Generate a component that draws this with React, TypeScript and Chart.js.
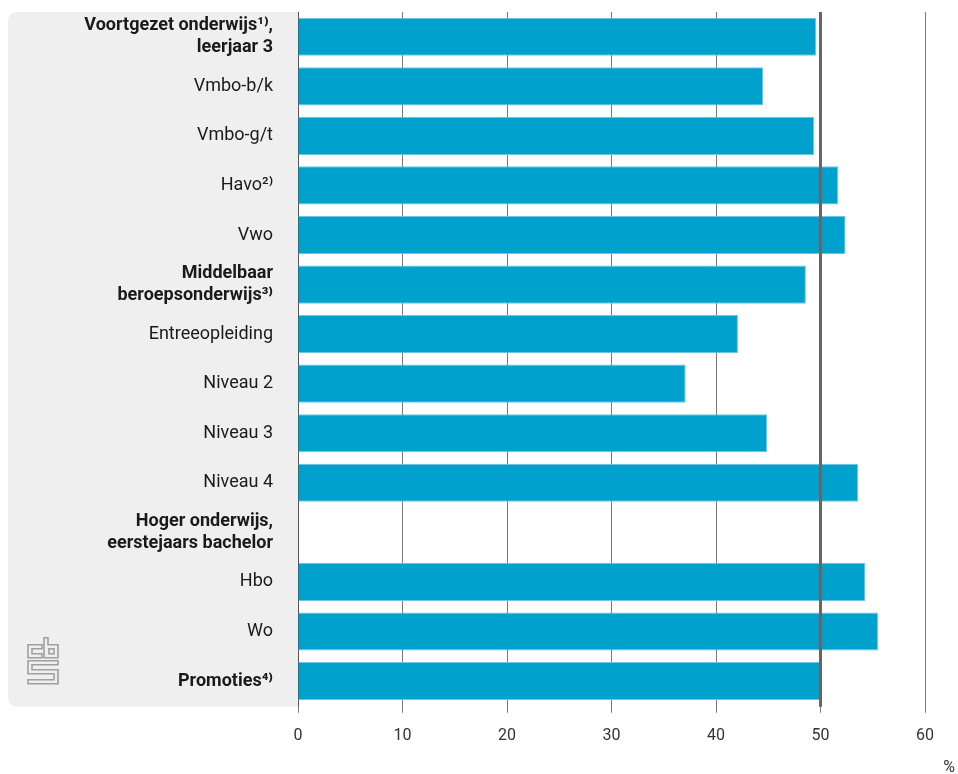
import React, { useEffect, useRef } from "react";
import { Chart, registerables } from "chart.js";

Chart.register(...registerables);

const categories: (string | string[])[] = [
  ["Voortgezet onderwijs¹⁾,", "leerjaar 3"],
  "Vmbo-b/k",
  "Vmbo-g/t",
  "Havo²⁾",
  "Vwo",
  ["Middelbaar", "beroepsonderwijs³⁾"],
  "Entreeopleiding",
  "Niveau 2",
  "Niveau 3",
  "Niveau 4",
  ["Hoger onderwijs,", "eerstejaars bachelor"],
  "Hbo",
  "Wo",
  "Promoties⁴⁾",
];

const values: (number | null)[] = [
  49.6, 44.5, 49.4, 51.7, 52.4, 48.6, 42.1, 37.1, 44.9, 53.6, null, 54.3, 55.5, 50.0,
];

const headerIndices = [0, 5, 10, 13];
const xTicks = [0, 10, 20, 30, 40, 50, 60];
const referenceValue = 50;
const unitLabel = "%";

const FONT = "Roboto, 'Noto Sans', sans-serif";

const panelPlugin = {
  id: "panel",
  beforeDraw(chart: any) {
    const { ctx, chartArea } = chart;
    const left = 8;
    const right = chartArea.left;
    const top = chartArea.top;
    const bottom = chartArea.bottom + 1;
    const r = 10;
    ctx.save();
    ctx.fillStyle = "#efefef";
    ctx.beginPath();
    ctx.moveTo(right, top);
    ctx.lineTo(left + r, top);
    ctx.quadraticCurveTo(left, top, left, top + r);
    ctx.lineTo(left, bottom - r);
    ctx.quadraticCurveTo(left, bottom, left + r, bottom);
    ctx.lineTo(right, bottom);
    ctx.closePath();
    ctx.fill();

    // CBS logo (approximation)
    const lx = left + 20;
    const ly = bottom - 69;
    ctx.strokeStyle = "#a0a0a0";
    ctx.lineWidth = 1.6;
    ctx.lineJoin = "miter";
    // c
    ctx.beginPath();
    ctx.moveTo(lx + 14, ly + 7);
    ctx.lineTo(lx, ly + 7);
    ctx.lineTo(lx, ly + 20);
    ctx.lineTo(lx + 14, ly + 20);
    ctx.lineTo(lx + 14, ly + 16);
    ctx.lineTo(lx + 4, ly + 16);
    ctx.lineTo(lx + 4, ly + 11);
    ctx.lineTo(lx + 14, ly + 11);
    ctx.closePath();
    ctx.stroke();
    // b
    ctx.beginPath();
    ctx.moveTo(lx + 16, ly);
    ctx.lineTo(lx + 20, ly);
    ctx.lineTo(lx + 20, ly + 7);
    ctx.lineTo(lx + 30, ly + 7);
    ctx.lineTo(lx + 30, ly + 20);
    ctx.lineTo(lx + 16, ly + 20);
    ctx.closePath();
    ctx.stroke();
    ctx.strokeRect(lx + 21, ly + 11, 5, 5);
    // s
    ctx.beginPath();
    ctx.moveTo(lx, ly + 23);
    ctx.lineTo(lx + 30, ly + 23);
    ctx.lineTo(lx + 30, ly + 27);
    ctx.lineTo(lx + 4, ly + 27);
    ctx.lineTo(lx + 4, ly + 32);
    ctx.lineTo(lx + 30, ly + 32);
    ctx.lineTo(lx + 30, ly + 46);
    ctx.lineTo(lx, ly + 46);
    ctx.lineTo(lx, ly + 42);
    ctx.lineTo(lx + 26, ly + 42);
    ctx.lineTo(lx + 26, ly + 36);
    ctx.lineTo(lx, ly + 36);
    ctx.closePath();
    ctx.stroke();
    ctx.restore();
  },
};

const refLinePlugin = {
  id: "refLine",
  afterDatasetsDraw(chart: any) {
    const { ctx, chartArea, scales } = chart;
    const x = scales.x.getPixelForValue(referenceValue);
    ctx.save();
    ctx.strokeStyle = "#666666";
    ctx.lineWidth = 3;
    ctx.beginPath();
    ctx.moveTo(x, chartArea.top);
    ctx.lineTo(x, chartArea.bottom + 1);
    ctx.stroke();
    // unit label
    ctx.fillStyle = "#333333";
    ctx.font = `16px ${FONT}`;
    ctx.textAlign = "right";
    ctx.textBaseline = "alphabetic";
    ctx.fillText(unitLabel, chart.width - 3, chart.height - 2);
    ctx.restore();
  },
};

export default function App() {
  const canvasRef = useRef<HTMLCanvasElement | null>(null);

  useEffect(() => {
    const canvas = canvasRef.current;
    if (!canvas) return;
    const chart = new Chart(canvas, {
      type: "bar",
      data: {
        labels: categories,
        datasets: [
          {
            data: values,
            backgroundColor: "#00a1cd",
            borderColor: "#6cc6e2",
            borderWidth: 1,
            categoryPercentage: 1,
            barPercentage: 0.77,
          },
        ],
      },
      options: {
        indexAxis: "y",
        animation: false,
        responsive: false,
        maintainAspectRatio: false,
        layout: { padding: { left: 8, right: 33, top: 12, bottom: 14 } },
        plugins: {
          legend: { display: false },
          tooltip: { enabled: false },
        },
        scales: {
          x: {
            min: 0,
            max: 60,
            afterBuildTicks: (scale: any) => {
              scale.ticks = xTicks.map((v) => ({ value: v }));
            },
            grid: {
              color: "#7a7a7a",
              lineWidth: 1,
              tickLength: 7,
              drawOnChartArea: true,
            },
            border: { display: false },
            ticks: {
              color: "#333333",
              font: { family: FONT, size: 16 },
              padding: 14,
            },
          },
          y: {
            afterFit: (scale: any) => {
              scale.width = 290;
              scale.paddingTop = 0;
              scale.paddingBottom = 0;
            },
            grid: { display: false },
            border: { display: true, color: "#555555", width: 1 },
            ticks: {
              color: "#1a1a1a",
              padding: 17,
              font: (ctx: any) => ({
                family: FONT,
                size: 18,
                weight: headerIndices.includes(ctx.index) ? "bold" : "normal",
                lineHeight: 1.2,
              }),
            },
          },
        },
      },
      plugins: [panelPlugin, refLinePlugin],
    });
    return () => chart.destroy();
  }, []);

  return (
    <div style={{ position: "absolute", left: 0, top: 0, width: 958, height: 774, background: "#fff" }}>
      <canvas ref={canvasRef} width={958} height={774} style={{ display: "block" }} />
    </div>
  );
}
